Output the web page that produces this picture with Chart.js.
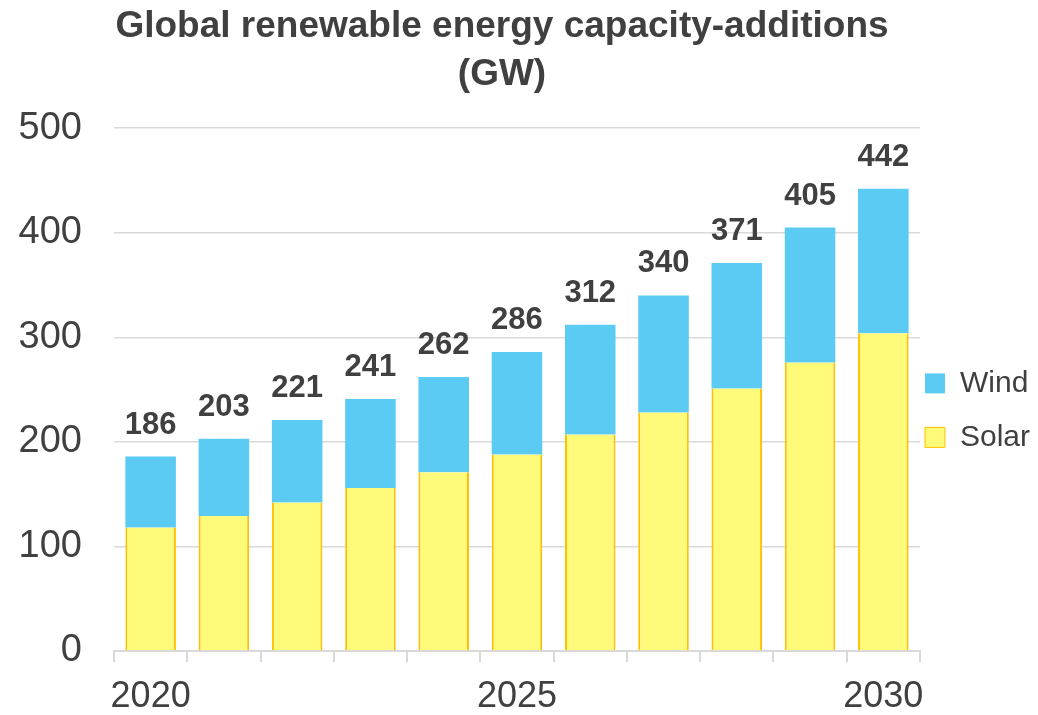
<!DOCTYPE html>
<html lang="en">
<head>
  <meta charset="UTF-8">
  <title>Global renewable energy capacity-additions</title>
  <script src="https://cdn.jsdelivr.net/npm/chart.js"></script>
  <style>
    body {
      margin: 0;
      background: #ffffff;
    }
    #wrap {
      width: 1038px;
      height: 715px;
    }
  </style>
</head>
<body>
  <div id="wrap"><canvas id="grafico" width="1038" height="715"></canvas></div>

  <script>
    const years = ["2020", "2021", "2022", "2023", "2024", "2025", "2026", "2027", "2028", "2029", "2030"];
    const shownYears = ["2020", "2025", "2030"];
    const solar = [118, 129, 142, 156, 171, 188, 207, 228, 251, 276, 304];
    const wind = [68, 74, 79, 85, 91, 98, 105, 112, 120, 129, 138];
    const totals = [186, 203, 221, 241, 262, 286, 312, 340, 371, 405, 442];
    const yTicks = [0, 100, 200, 300, 400, 500];

    const texto = '#404040';
    const grade = '#d9d9d9';
    const fonte = '"Liberation Sans", Arial, sans-serif';

    // rótulos de total em cima de cada barra
    const rotulosTotais = {
      id: 'rotulosTotais',
      afterDatasetsDraw(chart) {
        const ctx = chart.ctx;
        const meta = chart.getDatasetMeta(1);
        ctx.save();
        ctx.font = 'bold 31px ' + fonte;
        ctx.fillStyle = texto;
        ctx.textAlign = 'center';
        ctx.textBaseline = 'alphabetic';
        meta.data.forEach((bar, i) => {
          ctx.fillText(String(totals[i]), bar.x, bar.y - 23);
        });
        ctx.restore();
      }
    };

    const ctx = document.getElementById('grafico').getContext('2d');
    const chart = new Chart(ctx, {
      type: 'bar',
      data: {
        labels: years,
        datasets: [
          {
            label: 'Solar',
            data: solar,
            backgroundColor: '#fffa7a',
            borderColor: '#ffc000',
            borderWidth: { left: 2, right: 2, top: 0, bottom: 0 },
            borderSkipped: false,
            barPercentage: 0.69,
            categoryPercentage: 1
          },
          {
            label: 'Wind',
            data: wind,
            backgroundColor: '#5ccbf3',
            borderWidth: 0,
            barPercentage: 0.69,
            categoryPercentage: 1
          }
        ]
      },
      options: {
        responsive: false,
        animation: false,
        layout: {
          padding: { left: -36, right: -2, top: 0, bottom: -17 }
        },
        plugins: {
          title: {
            display: true,
            text: ['Global renewable energy capacity-additions', '(GW)'],
            color: texto,
            font: { family: fonte, size: 37, weight: 'bold', lineHeight: 1.3 },
            padding: { top: 3, bottom: 29 }
          },
          legend: {
            position: 'right',
            align: 'start',
            reverse: true,
            title: {
              display: true,
              text: '',
              padding: { top: 349, bottom: 0 }
            },
            labels: {
              color: texto,
              font: { family: fonte, size: 30, lineHeight: '49px' },
              boxWidth: 20,
              boxHeight: 20,
              padding: 5,
              // texto em lista para o espaçamento vertical seguir o lineHeight
              generateLabels: (c) => Chart.defaults.plugins.legend.labels.generateLabels(c)
                .map(item => Object.assign(item, { text: [item.text] }))
            }
          },
          tooltip: { enabled: false }
        },
        scales: {
          x: {
            stacked: true,
            offset: true,
            grid: {
              offset: true,
              drawOnChartArea: false,
              drawTicks: true,
              tickLength: 11,
              color: grade,
              lineWidth: 2
            },
            border: { color: grade, width: 2 },
            ticks: {
              autoSkip: false,
              maxRotation: 0,
              color: texto,
              font: { family: fonte, size: 36, lineHeight: 1.0 },
              padding: 17,
              callback: function (v, i) {
                const y = years[i];
                return shownYears.includes(y) ? y : '';
              }
            }
          },
          y: {
            stacked: true,
            min: yTicks[0],
            max: yTicks[yTicks.length - 1],
            afterBuildTicks: (axis) => {
              axis.ticks = yTicks.map(v => ({ value: v }));
            },
            afterFit: (axis) => {
              axis.width = 150;
            },
            grid: {
              color: grade,
              lineWidth: 1.5,
              drawTicks: false
            },
            border: { display: false },
            ticks: {
              color: texto,
              font: { family: fonte, size: 38 },
              padding: 32
            }
          }
        }
      },
      plugins: [rotulosTotais]
    });
  </script>
</body>
</html>
